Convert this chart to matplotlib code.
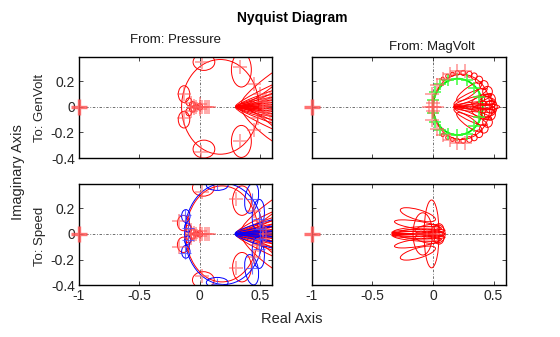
import matplotlib
matplotlib.use("Agg")
from matplotlib import pyplot as plt
from matplotlib.patches import Ellipse

plt.rcParams['font.family'] = ['Liberation Sans', 'DejaVu Sans']

# critical point
crit_x = -1.0
crit_y = 0.0

# ---- To: GenVolt / From: Pressure (red) ----
gp_ex = [0.17, 0.035, 0.345, 0.035, 0.345, -0.13, -0.13, -0.06, -0.06, -0.03, 0.0, -0.09, -0.09,
         0.64, 0.64, 0.64, 0.63, 0.63, 0.62, 0.62, 0.61, 0.61, 0.60, 0.60, 0.58, 0.58, 0.57, 0.55]
gp_ey = [0.0, 0.35, 0.29, -0.33, -0.27, 0.10, -0.10, 0.02, -0.02, 0.0, 0.0, 0.04, -0.04,
         0.0, 0.02, -0.02, 0.04, -0.04, 0.06, -0.06, 0.08, -0.08, 0.10, -0.10, 0.13, -0.13, 0.19, -0.17]
gp_ew = [0.64, 0.18, 0.165, 0.18, 0.165, 0.095, 0.095, 0.05, 0.05, 0.06, 0.05, 0.05, 0.05,
         0.68, 0.68, 0.68, 0.66, 0.66, 0.64, 0.64, 0.64, 0.64, 0.62, 0.62, 0.62, 0.62, 0.55, 0.5]
gp_eh = [0.74, 0.13, 0.27, 0.14, 0.25, 0.13, 0.13, 0.04, 0.04, 0.03, 0.05, 0.06, 0.06,
         0.03, 0.03, 0.03, 0.035, 0.035, 0.04, 0.04, 0.045, 0.045, 0.05, 0.05, 0.06, 0.06, 0.09, 0.1]
gp_ea = [0, 0, 0, 0, 0, 0, 0, 0, 0, 0, 0, 0, 0,
         0, 3, -3, 7, -7, 10, -10, 14, -14, 18, -18, 24, -24, 36, -38]
gp_px = [0.02, 0.33, 0.01, 0.33, -0.13, -0.13, -0.07, -0.07, -0.03, 0.0, 0.02, 0.04, 0.06, 0.08,
         -0.05, -0.05, 0.0, 0.0, 0.5, 0.48, 0.45, 0.45, 0.55, 0.52, 0.52, 0.58, 0.58]
gp_py = [0.35, 0.31, -0.35, -0.27, 0.10, -0.09, 0.03, -0.03, 0.0, 0.0, 0.0, 0.0, 0.0, 0.0,
         0.01, -0.01, 0.02, -0.02, 0.10, -0.09, 0.18, -0.18, 0.0, 0.04, -0.04, 0.06, -0.06]

# ---- To: GenVolt / From: MagVolt ----
gm_green = [0.205, 0.0, 0.41, 0.44]
gm_ex = [0.235, 0.08, 0.12, 0.16, 0.20, 0.25, 0.30, 0.34, 0.38, 0.42, 0.45, 0.47, 0.48,
         0.08, 0.12, 0.16, 0.20, 0.25, 0.30, 0.34, 0.38, 0.42, 0.45, 0.47,
         0.33, 0.34, 0.34, 0.33, 0.33, 0.31, 0.31, 0.30, 0.30, 0.40, 0.42, 0.42, 0.44, 0.44]
gm_ey = [0.0, 0.22, 0.24, 0.255, 0.265, 0.265, 0.255, 0.24, 0.21, 0.17, 0.12, 0.06, 0.0,
         -0.22, -0.24, -0.255, -0.265, -0.265, -0.255, -0.24, -0.21, -0.17, -0.12, -0.06,
         0.0, 0.02, -0.02, 0.05, -0.05, 0.08, -0.08, 0.12, -0.12, 0.0, 0.03, -0.03, 0.0, 0.0]
gm_ew = [0.47, 0.025, 0.03, 0.03, 0.035, 0.04, 0.045, 0.05, 0.06, 0.07, 0.08, 0.09, 0.1,
         0.025, 0.03, 0.03, 0.035, 0.04, 0.045, 0.05, 0.06, 0.07, 0.08, 0.09,
         0.32, 0.34, 0.34, 0.32, 0.32, 0.3, 0.3, 0.25, 0.25, 0.3, 0.2, 0.2, 0.14, 0.1]
gm_eh = [0.51, 0.025, 0.03, 0.03, 0.035, 0.04, 0.045, 0.05, 0.06, 0.07, 0.08, 0.09, 0.1,
         0.025, 0.03, 0.03, 0.035, 0.04, 0.045, 0.05, 0.06, 0.07, 0.08, 0.09,
         0.03, 0.035, 0.035, 0.05, 0.05, 0.06, 0.06, 0.07, 0.07, 0.05, 0.1, 0.1, 0.16, 0.2]
gm_ea = [0, 0, 0, 0, 0, 0, 0, 0, 0, 0, 0, 0, 0,
         0, 0, 0, 0, 0, 0, 0, 0, 0, 0, 0,
         0, 5, -5, 15, -15, 24, -24, 34, -34, 0, 0, 0, 0, 0]
gm_gx = [0.0, 0.0, 0.02, 0.02, 0.06, 0.06, 0.12, 0.12, 0.2, 0.2, 0.28, 0.28, 0.34, 0.34, 0.38, 0.38]
gm_gy = [0.05, -0.05, 0.12, -0.12, 0.18, -0.18, 0.21, -0.21, 0.22, -0.22, 0.21, -0.21, 0.15, -0.15, 0.08, -0.08]
gm_px = [0.0, 0.0, -0.01, -0.01, 0.03, 0.03, 0.08, 0.08, 0.14, 0.14, 0.2, 0.2, 0.26, 0.26,
         -0.03, -0.01, 0.01, 0.03]
gm_py = [0.03, -0.03, 0.1, -0.1, 0.17, -0.17, 0.22, -0.22, 0.26, -0.26, 0.28, -0.28, 0.28, -0.28,
         0.0, 0.0, 0.0, 0.0]

# ---- To: Speed / From: Pressure ----
sp_bx = [0.2, -0.115, -0.115, -0.1, -0.1, 0.145, 0.145, 0.43, 0.43, 0.485, 0.485,
         0.6, 0.6, 0.59, 0.59, 0.58, 0.58]
sp_by = [0.0, 0.14, -0.14, 0.05, -0.05, 0.38, -0.38, 0.28, -0.28, 0.15, -0.15,
         0.01, -0.01, 0.04, -0.04, 0.08, -0.08]
sp_bw = [0.65, 0.07, 0.07, 0.05, 0.05, 0.18, 0.18, 0.11, 0.11, 0.1, 0.1,
         0.6, 0.6, 0.6, 0.6, 0.58, 0.58]
sp_bh = [0.79, 0.1, 0.1, 0.07, 0.07, 0.08, 0.08, 0.24, 0.24, 0.24, 0.24,
         0.03, 0.03, 0.04, 0.04, 0.05, 0.05]
sp_ba = [0, 0, 0, 0, 0, 0, 0, -10, 10, -5, 5,
         2, -2, 7, -7, 14, -14]
sp_bpx = [0.145, 0.145, -0.12, -0.12, 0.43, 0.43, 0.49, 0.49, -0.1, -0.1, 0.5, 0.5]
sp_bpy = [0.39, -0.39, 0.15, -0.15, 0.27, -0.27, 0.12, -0.12, 0.05, -0.05, 0.04, -0.04]
sp_ex = [0.185, 0.03, 0.35, 0.03, 0.35, -0.135, -0.135, -0.06, -0.06, -0.03, 0.0, -0.09, -0.09,
         0.64, 0.64, 0.64, 0.63, 0.63, 0.62, 0.62, 0.61, 0.61, 0.60, 0.60, 0.58, 0.58, 0.57, 0.55]
sp_ey = [0.0, 0.36, 0.26, -0.36, -0.26, 0.085, -0.085, 0.02, -0.02, 0.0, 0.0, 0.04, -0.04,
         0.0, 0.02, -0.02, 0.04, -0.04, 0.06, -0.06, 0.08, -0.08, 0.10, -0.10, 0.13, -0.13, 0.19, -0.17]
sp_ew = [0.6, 0.18, 0.155, 0.18, 0.155, 0.1, 0.1, 0.05, 0.05, 0.06, 0.05, 0.05, 0.05,
         0.68, 0.68, 0.68, 0.66, 0.66, 0.64, 0.64, 0.64, 0.64, 0.62, 0.62, 0.62, 0.62, 0.55, 0.5]
sp_eh = [0.75, 0.13, 0.23, 0.13, 0.23, 0.12, 0.12, 0.04, 0.04, 0.03, 0.05, 0.06, 0.06,
         0.03, 0.03, 0.03, 0.035, 0.035, 0.04, 0.04, 0.045, 0.045, 0.05, 0.05, 0.06, 0.06, 0.09, 0.1]
sp_ea = [0, 0, 0, 0, 0, 0, 0, 0, 0, 0, 0, 0, 0,
         0, 3, -3, 7, -7, 10, -10, 14, -14, 18, -18, 24, -24, 36, -38]
sp_px = [0.02, 0.3, 0.02, 0.3, -0.17, -0.17, -0.07, -0.07, -0.03, 0.0, 0.02, 0.04, 0.06, 0.08,
         -0.05, -0.05, 0.0, 0.0, 0.5, 0.48, 0.45, 0.45, 0.55, 0.52, 0.52]
sp_py = [0.33, 0.27, -0.33, -0.27, 0.10, -0.10, 0.03, -0.03, 0.0, 0.0, 0.0, 0.0, 0.0, 0.0,
         0.01, -0.01, 0.02, -0.02, 0.10, -0.09, 0.18, -0.18, 0.0, 0.04, -0.04]

# ---- To: Speed / From: MagVolt ----
sm_ex = [-0.012, -0.085, -0.125, -0.125, -0.13, -0.13, -0.12, -0.12, -0.12, -0.13, -0.13,
         -0.1, 0.05, 0.05, 0.04, -0.14, -0.14, -0.05, -0.05]
sm_ey = [0.0, 0.0, 0.15, -0.15, 0.07, -0.07, 0.0, 0.02, -0.02, 0.03, -0.03,
         0.0, 0.03, -0.03, 0.0, 0.01, -0.01, 0.04, -0.04]
sm_ew = [0.124, 0.16, 0.3, 0.3, 0.38, 0.38, 0.44, 0.44, 0.44, 0.4, 0.4,
         0.38, 0.08, 0.08, 0.12, 0.4, 0.4, 0.2, 0.2]
sm_eh = [0.53, 0.33, 0.08, 0.08, 0.06, 0.06, 0.04, 0.03, 0.03, 0.05, 0.05,
         0.08, 0.1, 0.1, 0.14, 0.02, 0.02, 0.06, 0.06]
sm_ea = [0, 0, -15, 15, -8, 8, 0, 2, -2, 4, -4,
         0, 0, 0, 0, 1, -1, 10, -10]
sm_px = [0.0, 0.03, -0.05, -0.05, -0.1]
sm_py = [0.0, 0.0, 0.05, -0.05, 0.0]

xticks = [-1, -0.5, 0, 0.5]
yticks = [-0.4, -0.2, 0, 0.2]

fig = plt.figure(figsize=(5.6, 3.37), dpi=100)
ax_gp = fig.add_axes([0.141, 0.531, 0.345, 0.30])
ax_gm = fig.add_axes([0.557, 0.531, 0.346, 0.30])
ax_sp = fig.add_axes([0.141, 0.154, 0.345, 0.30])
ax_sm = fig.add_axes([0.557, 0.154, 0.346, 0.30])

lightred = (1.0, 0.35, 0.35)


def ellipses(ax, ex, ey, ew, eh, ea, color, lw=0.7):
    for x, y, w, h, a in zip(ex, ey, ew, eh, ea):
        ax.add_patch(Ellipse((x, y), w, h, angle=a, fill=False, ec=color, lw=lw))


def pluses(ax, px, py, color, alpha=0.55, ms=10, mew=1.3):
    ax.plot(px, py, '+', color=color, alpha=alpha, ms=ms, mew=mew, ls='none')


def setup(ax, xlab, ylab):
    ax.axhline(0, color='0.35', lw=0.6, ls=(0, (3, 2, 1, 2)), zorder=0)
    ax.axvline(0, color='0.35', lw=0.6, ls=(0, (3, 2, 1, 2)), zorder=0)
    ax.plot([crit_x], [crit_y], '+', color=lightred, alpha=0.85, ms=11, mew=2.4,
            clip_on=False, zorder=5)
    ax.set_xlim(-1, 0.6)
    ax.set_ylim(-0.4, 0.39)
    ax.set_xticks(xticks)
    ax.set_yticks(yticks)
    ax.set_xticklabels(['-1', '-0.5', '0', '0.5'] if xlab else [])
    ax.set_yticklabels(['-0.4', '-0.2', '0', '0.2'] if ylab else [])
    ax.tick_params(direction='in', top=True, right=True, length=3, width=0.6,
                   labelsize=10, colors='0.15', pad=3)
    for s in ax.spines.values():
        s.set_linewidth(1.0)


ellipses(ax_gp, gp_ex, gp_ey, gp_ew, gp_eh, gp_ea, 'red')
pluses(ax_gp, gp_px, gp_py, lightred)

ax_gm.add_patch(Ellipse((gm_green[0], gm_green[1]), gm_green[2], gm_green[3],
                        fill=False, ec=(0, 0.9, 0), lw=1.3))
ellipses(ax_gm, gm_ex, gm_ey, gm_ew, gm_eh, gm_ea, 'red')
pluses(ax_gm, gm_gx, gm_gy, (0.2, 1.0, 0.2), alpha=0.8, ms=8)
pluses(ax_gm, gm_px, gm_py, lightred)

ellipses(ax_sp, sp_ex, sp_ey, sp_ew, sp_eh, sp_ea, 'red')
pluses(ax_sp, sp_px, sp_py, lightred)
ellipses(ax_sp, sp_bx, sp_by, sp_bw, sp_bh, sp_ba, 'blue')
pluses(ax_sp, sp_bpx, sp_bpy, (0.3, 0.3, 1.0), alpha=0.8, ms=9, mew=0.8)

ellipses(ax_sm, sm_ex, sm_ey, sm_ew, sm_eh, sm_ea, 'red')
pluses(ax_sm, sm_px, sm_py, lightred, alpha=0.4)

setup(ax_gp, False, True)
setup(ax_gm, False, False)
setup(ax_sp, True, True)
setup(ax_sm, True, False)

fig.text(0.521, 0.947, 'Nyquist Diagram', ha='center', va='center', fontsize=10, fontweight='bold')
fig.text(0.314, 0.881, 'From: Pressure', ha='center', va='center', fontsize=9.5, color='0.1')
fig.text(0.771, 0.860, 'From: MagVolt', ha='center', va='center', fontsize=9.5, color='0.1')
fig.text(0.521, 0.054, 'Real Axis', ha='center', va='center', fontsize=10.5, color='0.15')
fig.text(0.032, 0.49, 'Imaginary Axis', ha='center', va='center', rotation=90, fontsize=10.5, color='0.15')
fig.text(0.072, 0.68, 'To: GenVolt', ha='center', va='center', rotation=90, fontsize=9.5, color='0.15')
fig.text(0.072, 0.30, 'To: Speed', ha='center', va='center', rotation=90, fontsize=9.5, color='0.15')

fig.savefig('out.png', dpi=100)
